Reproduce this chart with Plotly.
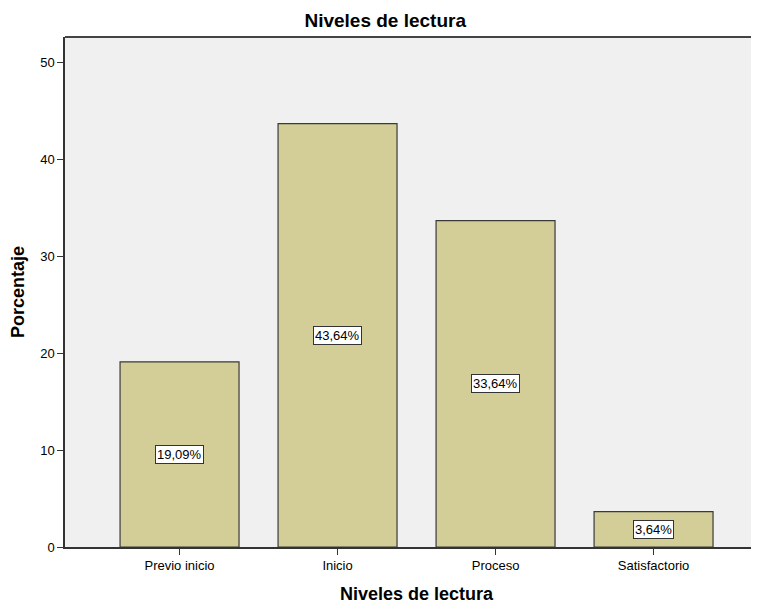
import plotly.graph_objects as go

categories = ["Previo inicio", "Inicio", "Proceso", "Satisfactorio"]
values = [19.09, 43.64, 33.64, 3.64]
labels = ["19,09%", "43,64%", "33,64%", "3,64%"]

FONT = "Liberation Sans, Arial, sans-serif"

fig = go.Figure()
fig.add_trace(go.Bar(
    x=categories, y=values, width=0.753,
    marker=dict(color="#D3CE97", line=dict(color="#3a3a3a", width=1.2)),
    hoverinfo="skip",
))
for c, v, t in zip(categories, values, labels):
    fig.add_annotation(x=c, y=v / 2, text=t, showarrow=False,
                       bgcolor="white", bordercolor="#333", borderwidth=1, borderpad=1,
                       font=dict(family=FONT, size=13, color="black"))

# page body has an 8px margin; margins compensate for it
fig.update_layout(
    width=759, height=603,
    margin=dict(l=57, r=0, t=29, b=64, autoexpand=False),
    paper_bgcolor="white", plot_bgcolor="#F0F0F0",
    showlegend=False,
    font=dict(family=FONT, size=13, color="black"),
    title=dict(text="<b>Niveles de lectura</b>", x=0.497, xanchor="center", y=0.980, yanchor="middle",
               font=dict(size=19, color="black")),
    xaxis=dict(range=[-0.725, 3.718], showgrid=False, zeroline=False, ticks="outside", ticklen=6,
               tickcolor="#333", showline=True, linecolor="#333", linewidth=1.5, mirror=False,
               automargin=False, tickfont=dict(size=13)),
    yaxis=dict(range=[0, 52.58], tickvals=[0, 10, 20, 30, 40, 50], showgrid=False, zeroline=False,
               ticks="outside", ticklen=6, tickcolor="#333", showline=True, linecolor="#333",
               linewidth=1.5, automargin=False, tickfont=dict(size=13)),
)
fig.add_annotation(text="<b>Niveles de lectura</b>", xref="paper", yref="paper",
                   x=(417 - 65) / 702, y=-0.092, xanchor="center", yanchor="middle", showarrow=False,
                   font=dict(size=18, color="black"))
fig.add_annotation(text="<b>Porcentaje</b>", xref="paper", yref="paper",
                   x=-0.067, y=0.5, xanchor="center", yanchor="middle", showarrow=False,
                   textangle=-90, font=dict(size=18, color="black"))
fig.add_shape(type="line", xref="paper", yref="paper", x0=0, x1=1, y0=1, y1=1,
              line=dict(color="#444", width=2))
fig.write_html("out.html")
